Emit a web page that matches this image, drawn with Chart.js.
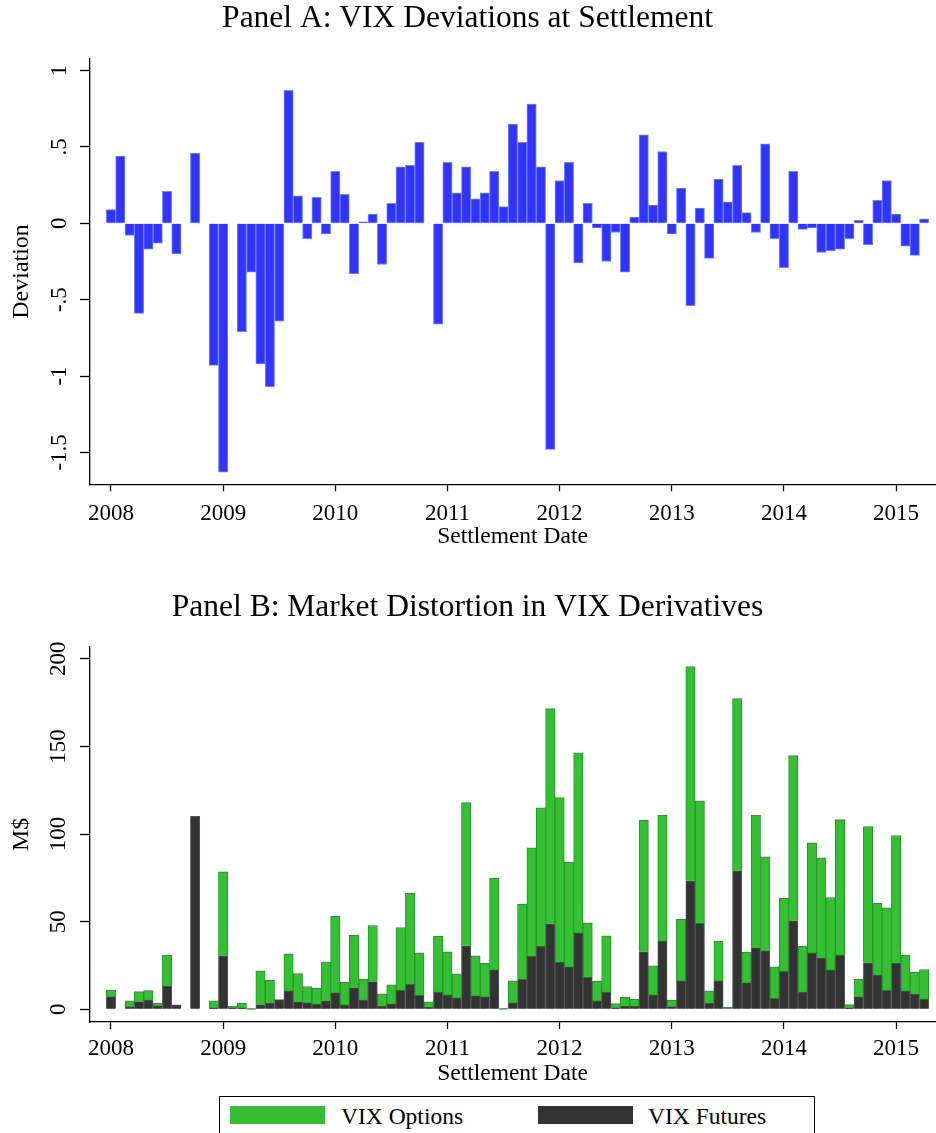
<!DOCTYPE html>
<html>
<head>
<meta charset="utf-8">
<script src="https://cdn.jsdelivr.net/npm/chart.js@4.4.0/dist/chart.umd.min.js"></script>
<style>
  body { margin: 0; background: #fff; width: 936px; height: 1133px; overflow: hidden; position: relative; font-family: 'Liberation Serif', serif; }
  #wrapA { position: absolute; left: 0; top: -2px; width: 936px; height: 562px; }
  #wrapB { position: absolute; left: 0; top: 580px; width: 936px; height: 520px; }
  #legend { position: absolute; left: 219px; top: 1096px; width: 594px; height: 60px; border: 1.5px solid #000; background: #fff; }
  #legend .sw { position: absolute; top: 8.5px; width: 95px; height: 18px; }
  #legend .tx { position: absolute; top: 7.5px; font-size: 23.5px; line-height: 23.5px; color: #000; white-space: nowrap; }
</style>
</head>
<body>
<div id="wrapA"><canvas id="chartA" width="936" height="562"></canvas></div>
<div id="wrapB"><canvas id="chartB" width="936" height="520"></canvas></div>
<div id="legend">
  <span class="sw" style="left:9.5px; background:#34bf34;"></span>
  <span class="tx" style="left:121px;">VIX Options</span>
  <span class="sw" style="left:317.5px; background:#333333;"></span>
  <span class="tx" style="left:428px;">VIX Futures</span>
</div>
<script>
// monthly settlement dates, Jan 2008 - Apr 2015
const months = [];
for (let y = 2008; y <= 2015; y++) {
  for (let m = 1; m <= 12; m++) {
    if (months.length < 88) months.push(y + '-' + String(m).padStart(2, '0'));
  }
}

const yearTicks = [2008, 2009, 2010, 2011, 2012, 2013, 2014, 2015];
const devTicks = [-1.5, -1, -0.5, 0, 0.5, 1];
const dollarTicks = [0, 50, 100, 150, 200];

// Panel A: VIX deviation at settlement
const deviation = [
  0.09, 0.44, -0.08, -0.59, -0.17, -0.13, 0.21, -0.20, null, 0.46, null, -0.93,
  -1.63, null, -0.71, -0.32, -0.92, -1.07, -0.64, 0.87, 0.18, -0.10, 0.17, -0.07,
  0.34, 0.19, -0.33, 0.01, 0.06, -0.27, 0.13, 0.37, 0.38, 0.53, null, -0.66,
  0.40, 0.20, 0.37, 0.16, 0.20, 0.34, 0.11, 0.65, 0.53, 0.78, 0.37, -1.48,
  0.28, 0.40, -0.26, 0.13, -0.03, -0.25, -0.06, -0.32, 0.04, 0.58, 0.12, 0.47,
  -0.07, 0.23, -0.54, 0.10, -0.23, 0.29, 0.14, 0.38, 0.07, -0.06, 0.52, -0.10,
  -0.29, 0.34, -0.04, -0.03, -0.19, -0.18, -0.17, -0.10, 0.02, -0.14, 0.15, 0.28,
  0.06, -0.15, -0.21, 0.03
];

// Panel B: market distortion, M$
const futures = [
  7.2, null, 1.5, 4.4, 5.3, 2.1, 13.3, 2.5, null, 110.1, null, 0.8,
  30.7, 0.8, 0.8, 0.1, 2.7, 3.6, 5.5, 10.5, 4.4, 3.8, 3.0, 5.0,
  9.5, 2.5, 12.4, 5.3, 15.8, 1.9, 3.1, 10.9, 14.3, 8.0, 1.3, 9.9,
  8.2, 6.5, 36.2, 7.8, 7.2, 22.5, 0.1, 3.8, 17.1, 30.3, 36.0, 48.8,
  26.9, 24.2, 43.6, 18.3, 4.8, 9.9, 1.0, 1.9, 1.9, 32.8, 8.2, 38.9,
  1.5, 16.2, 73.3, 49.1, 3.6, 16.2, 0.4, 79.0, 15.2, 35.2, 33.3, 6.3,
  21.7, 50.5, 9.9, 32.2, 29.3, 22.5, 30.9, 0.8, 7.2, 26.7, 19.6, 10.9,
  26.5, 10.5, 9.0, 5.9
];
const options = [
  3.8, null, 3.3, 5.7, 5.4, 1.3, 17.7, null, null, null, null, 4.0,
  47.8, 1.1, 2.6, 0.3, 19.2, 13.0, null, 21.1, 16.0, 9.2, 9.0, 22.0,
  43.6, 13.1, 29.9, 12.0, 32.0, 6.9, 10.8, 35.8, 52.0, 24.2, 2.9, 31.8,
  24.6, 13.7, 81.7, 22.7, 19.1, 52.4, 0.3, 12.4, 42.9, 61.9, 79.0, 122.8,
  93.9, 59.8, 102.7, 31.0, 11.2, 32.0, 2.2, 5.0, 3.8, 75.2, 16.6, 72.0,
  3.6, 35.2, 122.3, 69.8, 6.9, 22.8, 0.7, 98.3, 17.4, 75.7, 53.7, 17.9,
  41.7, 94.3, 26.1, 62.8, 57.2, 41.3, 77.3, 1.9, 9.9, 77.5, 41.0, 47.0,
  72.7, 20.5, 12.3, 16.8
];

function toX(label) {
  const [y, m] = label.split('-').map(Number);
  return y + (m - 1) / 12;
}
function points(values) {
  return months.map((m, i) => ({ x: toX(m), y: values[i] }));
}

const serif = "'Liberation Serif', serif";
Chart.defaults.font.family = serif;
Chart.defaults.color = '#000';

function xAxis(labelPad, titlePad, height) {
  return {
    type: 'linear',
    min: 2007.813,
    max: 2015.347,
    offset: false,
    stacked: true,
    afterBuildTicks: s => { s.ticks = yearTicks.map(v => ({ value: v })); },
    afterFit: s => { s.height = height; },
    grid: { display: true, drawOnChartArea: false, drawTicks: true, tickLength: 7, tickWidth: 1.3, tickColor: '#000', offset: false },
    border: { display: true, color: '#000', width: 1.3 },
    ticks: { color: '#000', font: { size: 23 }, padding: labelPad, maxRotation: 0, autoSkip: false, callback: v => String(v) },
    title: { display: true, text: 'Settlement Date', color: '#000', font: { size: 23.5 }, padding: { top: 0, bottom: titlePad } }
  };
}

function yAxis(min, max, tickVals, fmt, labelPad, title) {
  return {
    min: min,
    max: max,
    afterBuildTicks: s => { s.ticks = tickVals.map(v => ({ value: v })); },
    afterFit: s => { s.width = 90; },
    grid: { display: true, drawOnChartArea: false, drawTicks: true, tickLength: 10, tickWidth: 1.3, tickColor: '#000' },
    border: { display: true, color: '#000', width: 1.3 },
    ticks: { color: '#000', font: { size: 23 }, minRotation: 90, maxRotation: 90, crossAlign: 'center', padding: labelPad, autoSkip: false, callback: fmt },
    title: { display: true, text: title, color: '#000', font: { size: 24 }, padding: { top: 7.6, bottom: 0 } }
  };
}

new Chart(document.getElementById('chartA'), {
  type: 'bar',
  data: {
    datasets: [{
      label: 'Deviation',
      data: points(deviation),
      backgroundColor: '#3333ff',
      borderColor: '#6a88ff',
      borderWidth: 1,
      barPercentage: 1,
      categoryPercentage: 1
    }]
  },
  options: {
    responsive: false,
    animation: false,
    layout: { padding: { left: 0, right: 1, top: 0, bottom: 0 } },
    plugins: {
      legend: { display: false },
      tooltip: { enabled: false },
      title: {
        display: true,
        text: 'Panel A: VIX Deviations at Settlement',
        color: '#000',
        font: { size: 31.5, weight: 'normal' },
        padding: { top: 2, bottom: 20.8 }
      }
    },
    scales: {
      x: xAxis(9, 9, 75.7),
      y: yAxis(-1.709, 1.0785, devTicks, v => String(v).replace('0.', '.'), 2.3, 'Deviation')
    }
  }
});

new Chart(document.getElementById('chartB'), {
  type: 'bar',
  data: {
    datasets: [{
      label: 'VIX Futures',
      data: points(futures),
      backgroundColor: '#333333',
      borderColor: '#555555',
      borderWidth: 1,
      barPercentage: 1,
      categoryPercentage: 1
    }, {
      label: 'VIX Options',
      data: points(options),
      backgroundColor: '#34bf34',
      borderColor: '#209a20',
      borderWidth: 1,
      barPercentage: 1,
      categoryPercentage: 1
    }]
  },
  options: {
    responsive: false,
    animation: false,
    layout: { padding: { left: 0, right: 1, top: 0, bottom: 0 } },
    plugins: {
      legend: { display: false },
      tooltip: { enabled: false },
      title: {
        display: true,
        text: 'Panel B: Market Distortion in VIX Derivatives',
        color: '#000',
        font: { size: 31.5, weight: 'normal' },
        padding: { top: 8.5, bottom: 20.6 }
      }
    },
    scales: {
      x: xAxis(6.2, 12, 78),
      y: Object.assign(yAxis(-7.24, 206.8, dollarTicks, v => String(v), 3.7, 'M$'), { stacked: true })
    }
  }
});
</script>
</body>
</html>
